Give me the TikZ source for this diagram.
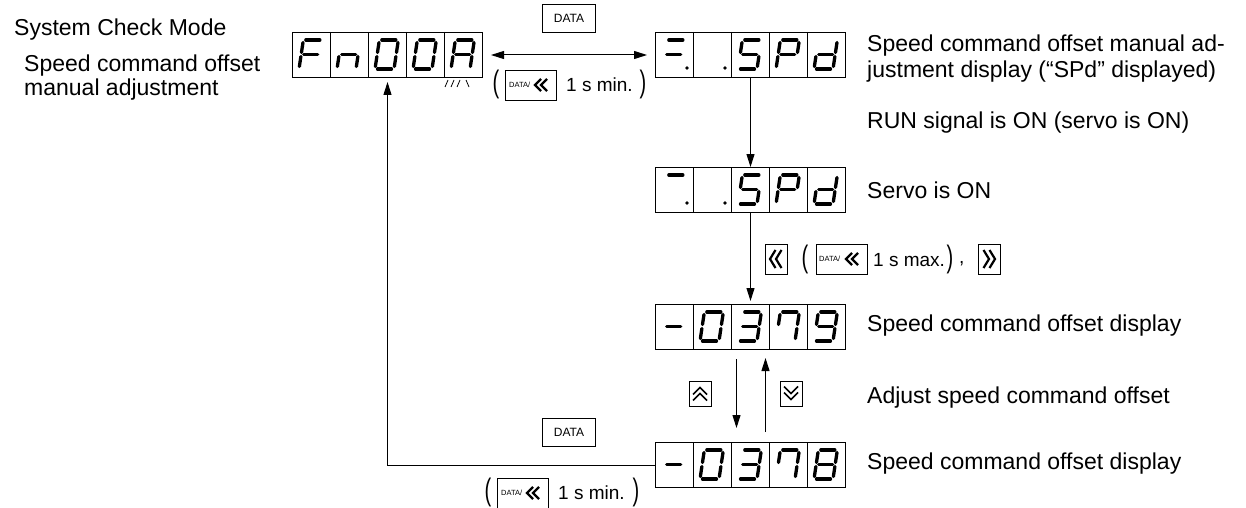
\documentclass[tikz,border=0pt]{standalone}
\usepackage{fontspec}
\usepackage{graphicx}
\setmainfont{Liberation Sans}
\usetikzlibrary{arrows.meta}
\def\sgA{(2.5,29)--(16.5,29)}
\def\sgB{(19,26.5)--(19,16.5)}
\def\sgC{(19,12.5)--(19,2.5)}
\def\sgD{(2.5,0)--(16.5,0)}
\def\sgE{(0,12.5)--(0,2.5)}
\def\sgF{(0,26.5)--(0,16.5)}
\def\sgG{(2.5,14.5)--(16.5,14.5)}
\newcommand\dig[3]{\begin{scope}[shift={(#1+7,#2-8)},xslant=0.15,x=1pt,y=1pt]\foreach \s in {#3}{\draw[seg] \s;}\end{scope}}
\newcommand\dpt[2]{\fill (#1+32,#2-9) circle (1.9pt);}
\newcommand\tallpar[1]{\scalebox{1}[1.55]{#1}}
\tikzset{
 seg/.style={line width=3.3pt, line cap=round},
 frame/.style={draw, line width=1pt, inner sep=0pt, minimum width=190pt, minimum height=45pt, anchor=north west},
 conn/.style={line width=1pt, -{Triangle[length=13pt,width=8pt]}},
 dconn/.style={line width=1pt, {Triangle[length=13pt,width=8pt]}-{Triangle[length=13pt,width=8pt]}},
 lbl/.style={anchor=west, inner sep=0pt, font=\fontsize{23}{27}\selectfont},
 small/.style={anchor=west, inner sep=0pt, font=\fontsize{19}{22}\selectfont},
 par/.style={inner sep=0pt, font=\fontsize{20}{24}\selectfont},
 key/.style={draw, line width=0.9pt, inner sep=0pt, anchor=north west},
 datakey/.style={key, minimum width=53pt, minimum height=28pt, font=\fontsize{12}{14}\selectfont},
 dkey/.style={key, minimum width=51pt, minimum height=30pt},
 ckey/.style={key, minimum width=22pt, minimum height=30pt},
 akey/.style={key, minimum width=22pt, minimum height=25pt},
 tiny/.style={anchor=west, inner sep=0pt, font=\fontsize{7.5}{9}\selectfont},
 pics/chevl/.style={code={\draw[line width=#1, line join=miter] (0,-6)--(-6,0)--(0,6) (6,-6)--(0,0)--(6,6);}},
 pics/bchevl/.style={code={\draw[line width=#1, line join=miter] (-0.5,-9)--(-6,0)--(-0.5,9) (5.5,-9)--(0,0)--(5.5,9);}},
 pics/bchevr/.style={code={\draw[line width=#1, line join=miter] (0.5,-9)--(6,0)--(0.5,9) (-5.5,-9)--(0,0)--(-5.5,9);}},
 pics/chevu/.style={code={\draw[line width=#1, line join=miter] (-7,1)--(0,-6)--(7,1) (-7,7)--(0,0)--(7,7);}},
 pics/chevd/.style={code={\draw[line width=#1, line join=miter] (-7,-1)--(0,6)--(7,-1) (-7,-7)--(0,0)--(7,-7);}},
}
\begin{document}
\begin{tikzpicture}[x=1pt,y=-1pt]
\useasboundingbox (0,0) rectangle (1246,508);
% left texts
\node[lbl] (t0) at (14,30) {System Check Mode};
\node[lbl] (t1) at (24,66) {Speed command offset};
\node[lbl] (t2) at (24,90) {manual adjustment};
% displays
\node[frame] (d1) at (292,32) {};
\node[frame] (d2) at (655,32) {};
\node[frame] (d3) at (655,167) {};
\node[frame] (d4) at (655,304) {};
\node[frame] (d5) at (655,442) {};
\foreach \d in {d1,d2,d3,d4,d5} \foreach \i in {1,...,4} \draw[line width=0.8pt] ([xshift={38*\i}]\d.north west) -- ([xshift={38*\i}]\d.south west);
% d1: F n 0 0 A
\dig{292}{77}{\sgA,\sgE,\sgF,\sgG}
\dig{330}{77}{\sgC,\sgE,\sgG}
\dig{368}{77}{\sgA,\sgB,\sgC,\sgD,\sgE,\sgF}
\dig{406}{77}{\sgA,\sgB,\sgC,\sgD,\sgE,\sgF}
\dig{444}{77}{\sgA,\sgB,\sgC,\sgE,\sgF,\sgG}
\foreach \k in {0,1,2} \draw[line width=0.8pt] (448+6*\k,80) -- (445+6*\k,87);
\draw[line width=0.8pt] (466,80) -- (469,87);
% d2: = . . S P d
\dig{655}{77}{\sgA,\sgG}\dpt{655}{77}
\dpt{693}{77}
\dig{731}{77}{\sgA,\sgF,\sgG,\sgC,\sgD}
\dig{769}{77}{\sgA,\sgB,\sgF,\sgG,\sgE}
\dig{807}{77}{\sgB,\sgC,\sgD,\sgE,\sgG}
% d3
\dig{655}{212}{\sgA}\dpt{655}{212}
\dpt{693}{212}
\dig{731}{212}{\sgA,\sgF,\sgG,\sgC,\sgD}
\dig{769}{212}{\sgA,\sgB,\sgF,\sgG,\sgE}
\dig{807}{212}{\sgB,\sgC,\sgD,\sgE,\sgG}
% d4: - 0 3 7 9
\dig{655}{349}{\sgG}
\dig{693}{349}{\sgA,\sgB,\sgC,\sgD,\sgE,\sgF}
\dig{731}{349}{\sgA,\sgB,\sgC,\sgD,\sgG}
\dig{769}{349}{\sgA,\sgB,\sgC,\sgF}
\dig{807}{349}{\sgA,\sgB,\sgC,\sgD,\sgF,\sgG}
% d5: - 0 3 7 8
\dig{655}{487}{\sgG}
\dig{693}{487}{\sgA,\sgB,\sgC,\sgD,\sgE,\sgF}
\dig{731}{487}{\sgA,\sgB,\sgC,\sgD,\sgG}
\dig{769}{487}{\sgA,\sgB,\sgC,\sgF}
\dig{807}{487}{\sgA,\sgB,\sgC,\sgD,\sgE,\sgF,\sgG}
% connectors
\draw[dconn, shorten <=8pt, shorten >=8pt] (d1.east) -- (d2.west);
\draw[conn] (d2.south) -- (d3.north);
\draw[conn, shorten >=3pt] (d3.south) -- (d4.north);
\draw[conn, shorten <=9pt, shorten >=14pt] ([xshift=-14pt]d4.south) -- ([xshift=-14pt]d5.north);
\draw[conn, shorten <=10pt, shorten >=8pt] ([xshift=15pt]d5.north) -- ([xshift=15pt]d4.south);
\draw[conn, shorten >=4pt] (d5.west) -| (d1.south);
% top keys
\node[datakey] (k1) at (542,4) {DATA};
\node[par] (p1) at (496,84) {\tallpar{(}};
\node[dkey] (k2) at (505,70) {};
\node[tiny] (k2t) at (509,85) {DATA/};
\pic at (541,85) {chevl=2.2pt};
\node[small] (m1) at (566,85) {1 s min.};
\node[par] (p2) at (643,84) {\tallpar{)}};
% right texts
\node[lbl] (r1) at (867,46) {Speed command offset manual ad-};
\node[lbl] (r2) at (867,72) {justment display (“SPd” displayed)};
\node[lbl] (r3) at (867,123) {RUN signal is ON (servo is ON)};
\node[lbl] (r4) at (867,190) {Servo is ON};
\node[lbl] (r5) at (867,326) {Speed command offset display};
\node[lbl] (r6) at (867,398) {Adjust speed command offset};
\node[lbl] (r7) at (867,464) {Speed command offset display};
% button line
\node[ckey] (k3) at (765,244) {};
\pic at (776,259) {bchevl=2.2pt};
\node[par] (p3) at (805,259) {\tallpar{(}};
\node[dkey] (k4) at (816,244) {};
\node[tiny] (k4t) at (819,259) {DATA/};
\pic at (852,259) {chevl=2.2pt};
\node[small] (m2) at (873,260) {1 s max.};
\node[par] (p4) at (950,259) {\tallpar{)}};
\node[small] (cm) at (959,264) {,};
\node[ckey] (k5) at (978,244) {};
\pic at (989,259) {bchevr=2.2pt};
% up/down keys
\node[akey] (k6) at (689,381) {};
\pic at (700,393.5) {chevu=1.7pt};
\node[akey] (k7) at (780,381) {};
\pic at (791,393.5) {chevd=1.7pt};
% bottom keys
\node[datakey] (k8) at (542,418) {DATA};
\node[par] (p5) at (488,492) {\tallpar{(}};
\node[dkey] (k9) at (497,478) {};
\node[tiny] (k9t) at (501,493) {DATA/};
\pic at (533,493) {chevl=2.2pt};
\node[small] (m3) at (558,493) {1 s min.};
\node[par] (p6) at (636,492) {\tallpar{)}};
\end{tikzpicture}
\end{document}
